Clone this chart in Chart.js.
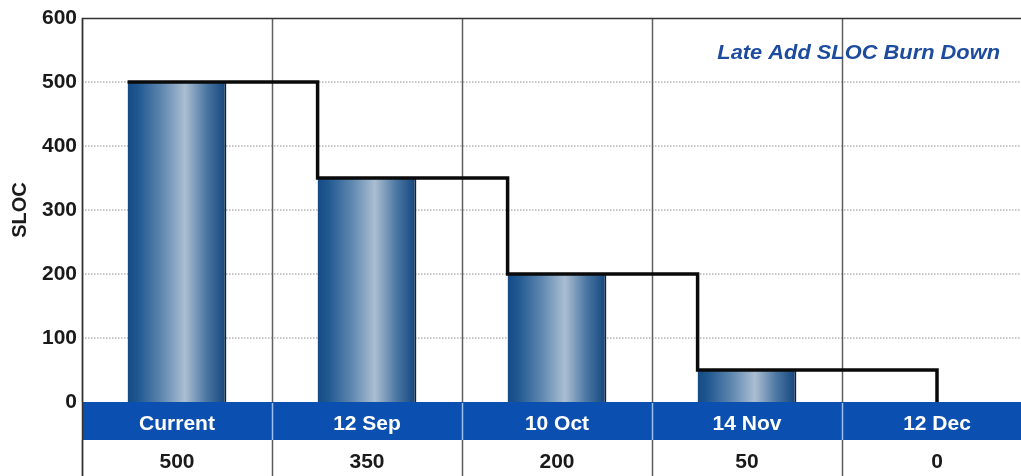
<!DOCTYPE html>
<html>
<head>
<meta charset="utf-8">
<script src="https://cdn.jsdelivr.net/npm/chart.js@4/dist/chart.umd.min.js"></script>
<style>
  html, body { margin: 0; padding: 0; background: #ffffff; overflow: hidden; }
  #wrap { width: 1032px; height: 476px; position: relative; }
</style>
</head>
<body>
<div id="wrap"><canvas id="c" width="1032" height="476"></canvas></div>
<script>
// Burn-down data
const categories = ['Current', '12 Sep', '10 Oct', '14 Nov', '12 Dec'];
const slocValues = [500, 350, 200, 50, 0];
const yTickValues = [0, 100, 200, 300, 400, 500, 600];
const chartTitle = 'Late Add SLOC Burn Down';
const yAxisTitle = 'SLOC';

const FONT = '"Liberation Sans", Arial, Helvetica, sans-serif';
const BAR_PCT = 0.52;        // bar width as a share of a category slot
const BAND_H = 38;           // height of the blue label band
const TABLE_H = 74;          // band + value row below the plot

// Step outline: drops at the left edge of each following bar,
// or at the category centre where no bar is drawn.
const halfBar = BAR_PCT / 2;
const stepPoints = [{ x: -halfBar, y: slocValues[0] }];
for (let i = 1; i < slocValues.length; i++) {
  stepPoints.push({ x: slocValues[i] > 0 ? i - halfBar : i, y: slocValues[i] });
}

function barGradient(ctx) {
  const chart = ctx.chart;
  const area = chart.chartArea;
  if (!area || ctx.dataIndex === undefined || !chart.scales.x) return '#2c5f92';
  const cx = chart.scales.x.getPixelForValue(ctx.dataIndex);
  const half = (area.width / categories.length) * BAR_PCT / 2;
  const g = chart.ctx.createLinearGradient(cx - half, 0, cx + half, 0);
  g.addColorStop(0.00, '#154b84');
  g.addColorStop(0.10, '#1f5790');
  g.addColorStop(0.35, '#6088b0');
  g.addColorStop(0.58, '#abbed2');
  g.addColorStop(0.80, '#4a76a2');
  g.addColorStop(1.00, '#12447c');
  return g;
}

// Grid, frame and the category/value table under the plot
const tablePlugin = {
  id: 'burnTable',
  beforeDatasetsDraw(chart) {
    const { ctx, chartArea: a, scales: { x, y } } = chart;
    const slot = a.width / categories.length;
    ctx.save();
    // dotted horizontal grid
    ctx.strokeStyle = '#b4b4b4';
    ctx.lineWidth = 1.5;
    ctx.setLineDash([1.5, 1.5]);
    yTickValues.forEach(v => {
      if (v === y.min || v === y.max) return;
      const py = Math.round(y.getPixelForValue(v));
      ctx.beginPath(); ctx.moveTo(a.left, py); ctx.lineTo(a.right, py); ctx.stroke();
    });
    ctx.setLineDash([]);
    // vertical category separators through the plot
    ctx.strokeStyle = '#606060';
    ctx.lineWidth = 1.5;
    for (let i = 0; i <= categories.length; i++) {
      const px = Math.round(x.getPixelForValue(i) - slot / 2) + 0.5;
      ctx.beginPath(); ctx.moveTo(px, a.top); ctx.lineTo(px, a.bottom); ctx.stroke();
    }
    // frame: top and left
    ctx.strokeStyle = '#333333';
    ctx.lineWidth = 1.5;
    ctx.beginPath();
    ctx.moveTo(a.left + 0.5, a.bottom);
    ctx.lineTo(a.left + 0.5, a.top + 0.5);
    ctx.lineTo(a.right, a.top + 0.5);
    ctx.stroke();
    ctx.restore();
  },
  afterDraw(chart) {
    const { ctx, chartArea: a, scales: { x } } = chart;
    const slot = a.width / categories.length;
    const bandTop = a.bottom;
    const rowTop = bandTop + BAND_H;
    const rowBottom = chart.height;
    ctx.save();
    // blue band
    ctx.fillStyle = '#0b50b0';
    ctx.fillRect(a.left, bandTop, a.right - a.left, BAND_H);
    // value row
    ctx.fillStyle = '#ffffff';
    ctx.fillRect(a.left, rowTop, a.right - a.left, rowBottom - rowTop);
    for (let i = 0; i <= categories.length; i++) {
      const px = Math.round(x.getPixelForValue(i) - slot / 2) + 0.5;
      if (i > 0) {
        ctx.strokeStyle = '#9cc0ee';
        ctx.lineWidth = 1.5;
        ctx.beginPath(); ctx.moveTo(px, bandTop + 1); ctx.lineTo(px, rowTop); ctx.stroke();
      }
      ctx.strokeStyle = '#5a5a5a';
      ctx.lineWidth = 1.5;
      ctx.beginPath(); ctx.moveTo(px, rowTop); ctx.lineTo(px, rowBottom); ctx.stroke();
    }
    ctx.strokeStyle = '#333333';
    ctx.beginPath(); ctx.moveTo(a.left + 0.5, bandTop); ctx.lineTo(a.left + 0.5, rowBottom); ctx.stroke();
    // labels
    ctx.font = 'bold 21px ' + FONT;
    ctx.textAlign = 'center';
    ctx.textBaseline = 'alphabetic';
    categories.forEach((c, i) => {
      const px = x.getPixelForValue(i);
      ctx.fillStyle = '#ffffff';
      ctx.fillText(c, px, bandTop + 28);
      ctx.fillStyle = '#1a1a1a';
      ctx.fillText(String(slocValues[i]), px, rowTop + 28);
    });
    // chart title, slightly widened
    ctx.font = 'italic bold 21px ' + FONT;
    ctx.fillStyle = '#1d4c9e';
    ctx.textAlign = 'right';
    ctx.translate(1000, 59);
    ctx.scale(1.04, 1);
    ctx.fillText(chartTitle, 0, 0);
    ctx.restore();
  }
};

new Chart(document.getElementById('c'), {
  type: 'bar',
  data: {
    labels: categories,
    datasets: [
      {
        type: 'line',
        label: 'Plan',
        data: stepPoints,
        xAxisID: 'xs',
        yAxisID: 'y',
        stepped: true,
        borderColor: '#0a0a0a',
        borderWidth: 3.5,
        pointRadius: 0,
        fill: false,
        clip: 6,
        order: 0
      },
      {
        type: 'bar',
        label: 'SLOC',
        data: slocValues,
        xAxisID: 'x',
        yAxisID: 'y',
        grouped: false,
        backgroundColor: barGradient,
        borderColor: '#0f2236',
        borderWidth: { top: 0, left: 0, bottom: 0, right: 2 },
        borderSkipped: false,
        categoryPercentage: 1,
        barPercentage: BAR_PCT,
        order: 1
      }
    ]
  },
  options: {
    responsive: false,
    animation: false,
    layout: { padding: { top: 18, left: 0, right: 0, bottom: 0 } },
    plugins: {
      legend: { display: false },
      tooltip: { enabled: false },
      title: { display: false }
    },
    scales: {
      x: {
        type: 'category',
        offset: true,
        grid: { display: false, drawTicks: false },
        border: { display: false },
        ticks: { display: false },
        afterFit(scale) { scale.height = TABLE_H; }
      },
      xs: {
        type: 'linear',
        display: false,
        offset: false,
        min: -0.5,
        max: categories.length - 0.5
      },
      y: {
        type: 'linear',
        min: yTickValues[0],
        max: yTickValues[yTickValues.length - 1],
        afterBuildTicks(scale) { scale.ticks = yTickValues.map(v => ({ value: v })); },
        grid: { display: false, drawTicks: false, tickLength: 0 },
        border: { display: false },
        ticks: {
          color: '#1a1a1a',
          padding: 5,
          font: { family: FONT, size: 21, weight: 'bold' }
        },
        title: {
          display: true,
          text: yAxisTitle,
          color: '#1a1a1a',
          padding: { top: 8, bottom: 0 },
          font: { family: FONT, size: 20, weight: 'bold' }
        },
        afterFit(scale) { scale.width = 82; }
      }
    }
  },
  plugins: [tablePlugin]
});
</script>
</body>
</html>
